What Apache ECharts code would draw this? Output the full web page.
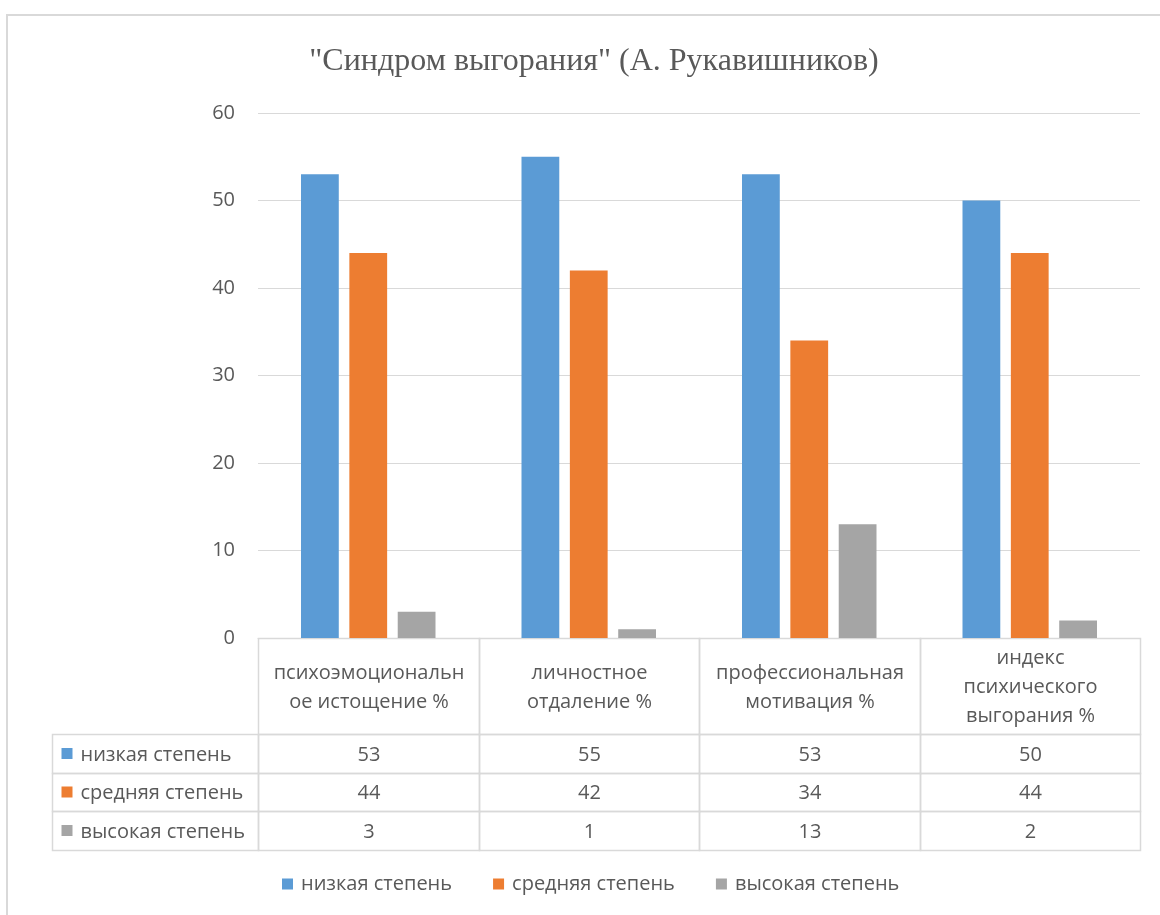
<!DOCTYPE html>
<html>
<head>
<meta charset="utf-8">
<script src="https://cdn.jsdelivr.net/npm/echarts@6/dist/echarts.min.js"></script>
<style>
html,body{margin:0;padding:0;background:#fff;}
#frame{position:absolute;left:6px;top:14px;width:1160px;height:920px;border-left:2px solid #d9d9d9;border-top:2px solid #d9d9d9;box-sizing:border-box;}
#chart{position:absolute;left:0;top:0;width:1160px;height:915px;}
</style>
</head>
<body>
<div id="frame"></div>
<div id="chart"></div>
<script>
var titleText = '"Синдром выгорания" (А. Рукавишников)';
var categories = [
  'психоэмоциональн\nое истощение %',
  'личностное\nотдаление %',
  'профессиональная\nмотивация %',
  'индекс\nпсихического\nвыгорания %'
];
var seriesNames = ['низкая степень', 'средняя степень', 'высокая степень'];
var lowValues = [53, 55, 53, 50];
var midValues = [44, 42, 34, 44];
var highValues = [3, 1, 13, 2];
var yTicks = [0, 10, 20, 30, 40, 50, 60];

var colors = ['#5b9bd5', '#ed7d31', '#a5a5a5'];
var allValues = [lowValues, midValues, highValues];
var FONT = '"Open Sans", "Noto Sans", sans-serif';

// table geometry in table units (columns = categories, rows: header 2.5 units, data 1 unit)
var labelColStart = -206 / 220.5;
var headerRows = 2.5;
var cells = [];
categories.forEach(function (c, i) {
  cells.push({ value: [i, i + 1, 0, headerRows], text: c, kind: 'header' });
});
allValues.forEach(function (vals, r) {
  cells.push({ value: [labelColStart, 0, headerRows + r, headerRows + r + 1], text: seriesNames[r], kind: 'label', color: colors[r] });
  vals.forEach(function (v, i) {
    cells.push({ value: [i, i + 1, headerRows + r, headerRows + r + 1], text: String(v), kind: 'value' });
  });
});

var chart = echarts.init(document.getElementById('chart'));
chart.setOption({
  animation: false,
  title: {
    text: titleText,
    left: 589,
    textAlign: 'center',
    top: 41,
    textStyle: { fontFamily: '"Liberation Serif", "DejaVu Serif", serif', fontWeight: 'normal', fontSize: 32, color: '#595959' }
  },
  legend: {
    bottom: 16,
    left: 277,
    icon: 'rect',
    itemWidth: 11,
    itemHeight: 11,
    itemGap: 41,
    data: seriesNames,
    textStyle: { fontFamily: FONT, fontSize: 20, color: '#595959', padding: [0, 0, 0, 3] }
  },
  grid: [
    { left: 258, right: 20, top: 113, bottom: 277 },
    { left: 52, right: 20, top: 638, bottom: 65 }
  ],
  xAxis: [
    {
      gridIndex: 0, type: 'category', data: categories,
      axisLine: { lineStyle: { color: '#d9d9d9' } },
      axisTick: { show: false },
      axisLabel: { show: false }
    },
    { gridIndex: 1, type: 'value', min: labelColStart, max: 4, show: false }
  ],
  yAxis: [
    {
      gridIndex: 0, type: 'value', min: 0, max: 60, interval: 10,
      axisLine: { show: false }, axisTick: { show: false },
      splitLine: { lineStyle: { color: '#d9d9d9', width: 1 } },
      axisLabel: { margin: 23, fontFamily: FONT, fontSize: 20, color: '#595959',
        formatter: function (v) { return yTicks.indexOf(v) >= 0 ? String(v) : ''; } }
    },
    { gridIndex: 1, type: 'value', min: 0, max: headerRows + 3, inverse: true, show: false }
  ],
  series: [
    { name: seriesNames[0], type: 'bar', data: lowValues, itemStyle: { color: colors[0] }, barGap: '28%', barCategoryGap: '39%' },
    { name: seriesNames[1], type: 'bar', data: midValues, itemStyle: { color: colors[1] } },
    { name: seriesNames[2], type: 'bar', data: highValues, itemStyle: { color: colors[2] } },
    {
      type: 'custom', xAxisIndex: 1, yAxisIndex: 1, silent: true,
      data: cells,
      encode: { x: [0, 1], y: [2, 3] },
      renderItem: function (params, api) {
        var cell = cells[params.dataIndex];
        var p0 = api.coord([api.value(0), api.value(2)]);
        var p1 = api.coord([api.value(1), api.value(3)]);
        var x = Math.round(p0[0]) + 0.5, y = Math.round(p0[1]) + 0.5;
        var w = Math.round(p1[0]) - Math.round(p0[0]), h = Math.round(p1[1]) - Math.round(p0[1]);
        var children = [{
          type: 'rect', shape: { x: x, y: y, width: w, height: h },
          style: { fill: 'none', stroke: '#d9d9d9', lineWidth: 1.5 }
        }];
        if (cell.kind === 'label') {
          children.push({ type: 'rect', shape: { x: x + 9, y: y + h / 2 - 6, width: 11, height: 11 }, style: { fill: cell.color } });
          children.push({ type: 'text', style: { x: x + 28, y: y + h / 2 + 1, text: cell.text, textAlign: 'left', textVerticalAlign: 'middle', font: '20px ' + FONT, fill: '#595959' } });
        } else {
          children.push({ type: 'text', style: { x: x + w / 2, y: y + h / 2 + 1, text: cell.text, textAlign: 'center', textVerticalAlign: 'middle', font: '20px ' + FONT, fill: '#595959', lineHeight: 29 } });
        }
        return { type: 'group', children: children };
      }
    }
  ]
});
</script>
</body>
</html>
